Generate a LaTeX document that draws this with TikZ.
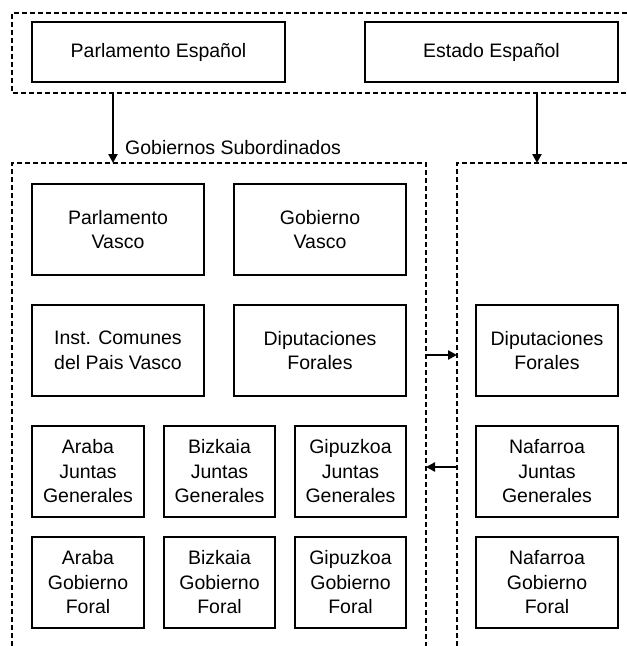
\documentclass[tikz,border=0pt]{standalone}
\usepackage{fontspec}
\setmainfont{Liberation Sans}
\usetikzlibrary{arrows.meta}
\begin{document}
\begin{tikzpicture}[x=1pt,y=-1pt,
  box/.style={draw, line width=1.3pt, align=center, inner sep=0pt,
    font=\fontsize{19.5}{24.5}\selectfont},
  frame/.style={draw, line width=1.3pt, dash pattern=on 5pt off 3pt},
  conn/.style={line width=2.4pt, -{Triangle[length=9pt,width=9pt]}}]
\useasboundingbox (0,0) rectangle (627,646);
\fill[white] (0,0) rectangle (627,646);
% frames
\draw[frame] (627,13) -- (12,13) -- (12,93) -- (627,93);
\draw[frame] (12,646) -- (12,163) -- (426,163) -- (426,646);
\draw[frame] (457,646) -- (457,163) -- (627,163);
% top
\node[box, minimum width=253pt, minimum height=60pt] (pe) at (158.5,52) {Parlamento Español};
\node[box, minimum width=253pt, minimum height=60pt] (ee) at (491.5,52) {Estado Español};
% left group
\node[box, minimum width=172pt, minimum height=91pt] (pv) at (118,229.5) {Parlamento\\Vasco};
\node[box, minimum width=172pt, minimum height=91pt] (gv) at (320,229.5) {Gobierno\\Vasco};
\node[box, minimum width=172pt, minimum height=91pt] (ic) at (118,350.5) {Inst. Comunes\\del Pais Vasco};
\node[box, minimum width=172pt, minimum height=91pt] (df) at (320,350.5) {Diputaciones\\Forales};
\node[box, minimum width=112pt, minimum height=91pt] (ajg) at (88,471.5) {Araba\\Juntas\\Generales};
\node[box, minimum width=111pt, minimum height=91pt] (bjg) at (219.5,471.5) {Bizkaia\\Juntas\\Generales};
\node[box, minimum width=111pt, minimum height=91pt] (gjg) at (350.5,471.5) {Gipuzkoa\\Juntas\\Generales};
\node[box, minimum width=112pt, minimum height=91pt] (agf) at (88,582.5) {Araba\\Gobierno\\Foral};
\node[box, minimum width=111pt, minimum height=91pt] (bgf) at (219.5,582.5) {Bizkaia\\Gobierno\\Foral};
\node[box, minimum width=111pt, minimum height=91pt] (ggf) at (350.5,582.5) {Gipuzkoa\\Gobierno\\Foral};
% right group
\node[box, minimum width=142pt, minimum height=91pt] (dfn) at (547,350.5) {Diputaciones\\Forales};
\node[box, minimum width=142pt, minimum height=91pt] (njg) at (547,471.5) {Nafarroa\\Juntas\\Generales};
\node[box, minimum width=142pt, minimum height=91pt] (ngf) at (547,582.5) {Nafarroa\\Gobierno\\Foral};
% label
\node[anchor=west, inner sep=0pt, font=\fontsize{19.5}{24}\selectfont] (gs) at (125,148) {Gobiernos Subordinados};
% connector endpoints
\coordinate (a1s) at (113,93);
\coordinate (a1e) at (113,163);
\coordinate (a2s) at (537,93);
\coordinate (a2e) at (537,163);
\coordinate (h1s) at (426,355);
\coordinate (h1e) at (457,355);
\coordinate (h2s) at (457,467);
\coordinate (h2e) at (426,467);
\draw[conn] (a1s) -- (a1e);
\draw[conn] (a2s) -- (a2e);
\draw[conn] (h1s) -- (h1e);
\draw[conn] (h2s) -- (h2e);
\end{tikzpicture}
\end{document}
